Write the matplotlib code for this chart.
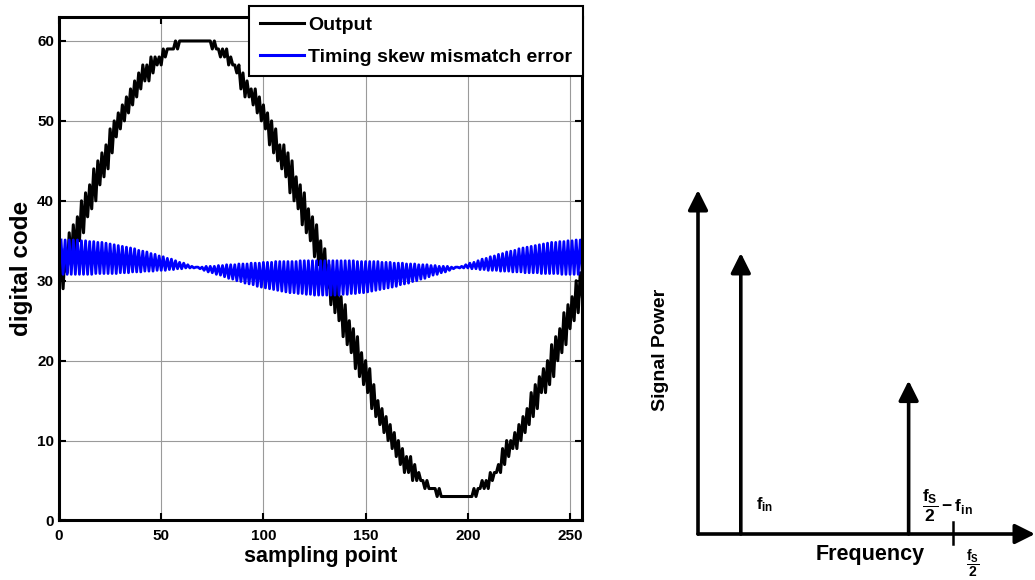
import matplotlib
matplotlib.use("Agg")
import matplotlib.pyplot as plt

# ---- data ----
sample_index = list(range(1, 257))

output_code = [
    33, 29, 34, 31, 36, 32, 37, 33, 38, 35, 40, 36, 41, 38, 42, 39, 44, 40, 45, 42,
    46, 43, 47, 44, 49, 46, 50, 48, 51, 49, 52, 50, 53, 51, 54, 52, 55, 53, 56, 54,
    57, 55, 57, 55, 58, 56, 58, 57, 58, 57, 59, 58, 59, 59, 59, 59, 60, 59, 60, 60,
    60, 60, 60, 60, 60, 60, 60, 60, 60, 60, 60, 60, 60, 60, 59, 60, 59, 59, 58, 59,
    58, 59, 57, 58, 57, 57, 56, 57, 54, 56, 53, 55, 53, 54, 52, 54, 51, 53, 50, 52,
    49, 51, 47, 50, 46, 49, 45, 47, 44, 47, 43, 46, 41, 45, 40, 43, 39, 42, 37, 41,
    36, 39, 35, 38, 33, 37, 32, 35, 30, 34, 29, 32, 27, 31, 26, 30, 25, 28, 23, 27,
    22, 25, 21, 24, 19, 23, 18, 21, 17, 20, 16, 19, 14, 17, 13, 15, 12, 14, 11, 13,
    10, 12, 9, 11, 8, 10, 7, 9, 6, 8, 6, 8, 5, 7, 5, 6, 5, 5, 4, 5,
    4, 4, 4, 4, 3, 4, 3, 3, 3, 3, 3, 3, 3, 3, 3, 3, 3, 3, 3, 3,
    3, 3, 4, 3, 4, 4, 5, 4, 5, 4, 6, 5, 6, 6, 7, 6, 9, 7, 10, 8,
    10, 9, 11, 9, 12, 10, 13, 11, 14, 12, 16, 13, 17, 14, 18, 16, 19, 16, 20, 17,
    22, 18, 23, 20, 24, 21, 26, 22, 27, 24, 28, 25, 30, 26, 31, 28,
]

skew_error = [
    35.1, 30.8, 35.1, 30.8, 35.1, 30.8, 35.1, 30.8, 35.1, 30.8, 35.0, 30.8, 35.0, 30.8, 34.9, 30.8,
    34.9, 30.9, 34.8, 30.9, 34.8, 30.9, 34.7, 30.9, 34.6, 30.9, 34.5, 30.9, 34.4, 31.0, 34.3, 31.0,
    34.2, 31.0, 34.1, 31.1, 34.0, 31.1, 33.8, 31.1, 33.7, 31.2, 33.6, 31.2, 33.4, 31.2, 33.3, 31.3,
    33.1, 31.3, 33.0, 31.3, 32.8, 31.4, 32.7, 31.4, 32.5, 31.5, 32.3, 31.5, 32.2, 31.6, 32.0, 31.6,
    31.8, 31.6, 31.7, 31.7, 31.5, 31.7, 31.3, 31.8, 31.1, 31.8, 31.0, 31.8, 30.8, 31.9, 30.7, 31.9,
    30.5, 32.0, 30.3, 32.0, 30.2, 32.0, 30.0, 32.1, 29.9, 32.1, 29.7, 32.1, 29.6, 32.2, 29.5, 32.2,
    29.3, 32.2, 29.2, 32.3, 29.1, 32.3, 29.0, 32.3, 28.9, 32.4, 28.8, 32.4, 28.7, 32.4, 28.6, 32.4,
    28.5, 32.4, 28.5, 32.4, 28.4, 32.5, 28.4, 32.5, 28.3, 32.5, 28.3, 32.5, 28.2, 32.5, 28.2, 32.5,
    28.2, 32.5, 28.2, 32.5, 28.2, 32.5, 28.2, 32.5, 28.2, 32.5, 28.3, 32.5, 28.3, 32.5, 28.4, 32.5,
    28.4, 32.4, 28.5, 32.4, 28.5, 32.4, 28.6, 32.4, 28.7, 32.4, 28.8, 32.4, 28.9, 32.3, 29.0, 32.3,
    29.1, 32.3, 29.2, 32.2, 29.3, 32.2, 29.5, 32.2, 29.6, 32.1, 29.7, 32.1, 29.9, 32.1, 30.0, 32.0,
    30.2, 32.0, 30.3, 32.0, 30.5, 31.9, 30.7, 31.9, 30.8, 31.8, 31.0, 31.8, 31.1, 31.8, 31.3, 31.7,
    31.5, 31.7, 31.7, 31.6, 31.8, 31.6, 32.0, 31.6, 32.2, 31.5, 32.3, 31.5, 32.5, 31.4, 32.7, 31.4,
    32.8, 31.3, 33.0, 31.3, 33.1, 31.3, 33.3, 31.2, 33.4, 31.2, 33.6, 31.2, 33.7, 31.1, 33.8, 31.1,
    34.0, 31.1, 34.1, 31.0, 34.2, 31.0, 34.3, 31.0, 34.4, 31.0, 34.5, 30.9, 34.6, 30.9, 34.7, 30.9,
    34.8, 30.9, 34.8, 30.9, 34.9, 30.8, 34.9, 30.8, 35.0, 30.8, 35.0, 30.8, 35.1, 30.8, 35.1, 30.8,
]

x_ticks = [0, 50, 100, 150, 200, 250]
y_ticks = [0, 10, 20, 30, 40, 50, 60]

# sketch on the right: spike positions / heights in normalised axis units
spike_freq = [0.127, 0.625]
spike_power = [0.817, 0.446]
nyquist_freq = 0.757

plt.rcParams['font.family'] = ['Liberation Sans', 'DejaVu Sans']
plt.rcParams['font.weight'] = 'bold'
plt.rcParams['mathtext.fontset'] = 'custom'
plt.rcParams['mathtext.rm'] = 'Liberation Sans:bold'
plt.rcParams['mathtext.it'] = 'Liberation Sans:bold'
plt.rcParams['mathtext.bf'] = 'Liberation Sans:bold'

fig = plt.figure(figsize=(10.35, 5.8), dpi=100)

# ---- left: time domain ----
ax = fig.add_axes([0.057, 0.1026, 0.5056, 0.8681])
ax.plot(sample_index, output_code, color='black', lw=2.2, label='Output')
ax.plot(sample_index, skew_error, color='#0000ff', lw=2.0, label='Timing skew mismatch error')
ax.set_xlim(0, 256)
ax.set_ylim(0, 63)
ax.set_xticks(x_ticks)
ax.set_yticks(y_ticks)
ax.grid(True, color='#9a9a9a', lw=0.8)
ax.tick_params(direction='in', top=True, right=True, length=5, width=1.5, labelsize=11)
ax.tick_params(axis='x', pad=6)
for sp in ax.spines.values():
    sp.set_linewidth(2.2)
ax.set_xlabel('sampling point', fontsize=15.5, fontweight='bold', labelpad=2)
ax.set_ylabel('digital code', fontsize=17.5, fontweight='bold', labelpad=3)

leg = ax.legend(loc='upper right', bbox_to_anchor=(583 / 1035, 1 - 6 / 580),
                bbox_transform=fig.transFigure, borderaxespad=0, fontsize=14,
                fancybox=False, framealpha=1, edgecolor='black', labelspacing=0.7,
                handlelength=2.3, handletextpad=0.2, borderpad=0.55)
leg.get_frame().set_linewidth(1.5)
for line in leg.get_lines():
    line.set_linewidth(2.2)

# ---- right: spectrum sketch ----
sx = fig.add_axes([0.6744, 0.0793, 0.3256, 0.5931])
sx.set_xlim(0, 1)
sx.set_ylim(0, 1)
sx.axis('off')

arrow = dict(arrowstyle='-|>,head_length=0.6,head_width=0.3', mutation_scale=20,
             lw=2.6, color='black', shrinkA=0, shrinkB=0)
sx.annotate('', xy=(1, 0), xytext=(0, 0), arrowprops=arrow, annotation_clip=False)
sx.annotate('', xy=(0, 1), xytext=(0, 0), arrowprops=arrow, annotation_clip=False)
for f, p in zip(spike_freq, spike_power):
    sx.annotate('', xy=(f, p), xytext=(f, 0), arrowprops=arrow, annotation_clip=False)
sx.plot([nyquist_freq, nyquist_freq], [-0.03, 0.036], color='black', lw=1.8, clip_on=False)

sx.text(spike_freq[0] + 0.072, 0.085, r'$f_{in}$', fontsize=12, ha='center', va='center')
sx.text(spike_freq[1] + 0.115, 0.081, r'$\dfrac{f_S}{2} - f_{in}$', fontsize=12.5,
        ha='center', va='center')
sx.text(0.51, -0.061, 'Frequency', fontsize=15.5, ha='center', va='center')
sx.text(nyquist_freq + 0.059, -0.084, r'$\dfrac{f_S}{2}$', fontsize=10, ha='center',
        va='center', clip_on=False)
sx.text(-0.11, 0.535, 'Signal Power', fontsize=14, rotation=90, ha='center', va='center')

fig.savefig('out.png', dpi=100)
